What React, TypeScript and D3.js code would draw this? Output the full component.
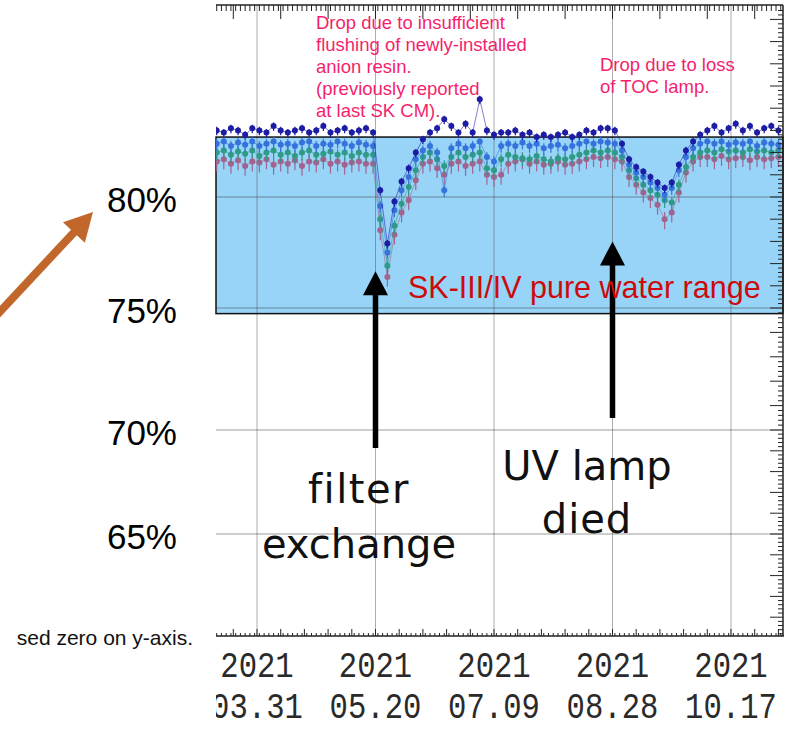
import React, { useEffect, useRef } from "react";
import * as d3 from "d3";

const W = 789;
const H = 730;

// one reading every 3 days, first one on 2021-03-14
const firstDay = "2021-03-14";
const stepDays = 3;

const navy = [
  83.0, 82.9, 83.1, 83.0, 82.8, 83.1, 83.0, 82.9, 83.2, 83.0,
  82.9, 83.0, 83.1, 82.9, 83.0, 83.2, 82.9, 83.0, 83.1, 82.9,
  83.0, 83.1, 82.9, 80.3, 77.9, 79.8, 80.7, 81.3, 82.0, 82.6,
  82.9, 83.1, 83.5, 83.2, 82.9, 83.3, 82.9, 84.4, 83.0, 82.8,
  82.9, 82.9, 83.0, 82.8, 82.9, 82.7, 82.8, 82.7, 82.8, 82.9,
  82.7, 82.8, 83.0, 82.9, 83.1, 83.1, 83.0, 82.4, 81.7, 81.35,
  81.15, 80.9, 80.65, 80.4, 80.65, 81.45, 82.1, 82.5, 82.8, 83.0,
  83.2, 82.9, 83.1, 83.3, 83.0, 83.2, 82.9, 83.1, 83.2, 83.0,
];
const blue = [
  82.4, 82.5, 82.3, 82.45, 82.35, 82.5, 82.3, 82.4, 82.5, 82.35,
  82.4, 82.3, 82.45, 82.5, 82.3, 82.4, 82.35, 82.5, 82.4, 82.3,
  82.45, 82.35, 82.3, 79.6, 77.5, 79.4, 80.3, 80.9, 81.7, 82.1,
  82.3, 82.0, 80.3, 82.2, 82.4, 82.2, 82.3, 82.5, 81.8, 81.6,
  82.3, 82.4, 82.3, 82.45, 82.3, 82.4, 82.2, 82.3, 82.35, 82.2,
  82.3, 82.4, 82.5, 82.4, 82.5, 82.45, 82.4, 82.1, 81.45, 81.1,
  80.9, 80.65, 80.4, 80.1, 80.4, 81.2, 81.8, 82.2, 82.4, 82.5,
  82.4, 82.5, 82.35, 82.45, 82.4, 82.5, 82.3, 82.45, 82.4, 82.35,
];
const teal = [
  82.0, 82.1, 81.9, 82.05, 81.95, 82.1, 81.85, 82.0, 82.1, 81.9,
  82.0, 81.85, 82.0, 82.1, 81.9, 81.95, 82.05, 81.9, 82.0, 81.85,
  82.0, 81.9, 81.9, 79.0, 76.9, 78.7, 79.7, 80.45, 81.2, 81.8,
  82.0, 81.7, 81.4, 81.8, 82.0, 81.8, 81.9, 82.0, 81.3, 81.2,
  81.7, 81.9, 81.8, 81.75, 81.7, 81.85, 81.7, 81.6, 81.75, 81.7,
  81.8, 81.9, 82.0, 82.1, 82.0, 82.1, 82.0, 81.8, 81.2, 80.85,
  80.55, 80.3, 80.1, 79.85, 79.75, 80.55, 81.35, 81.8, 82.0, 82.1,
  82.0, 82.15, 82.05, 82.1, 82.0, 82.15, 82.05, 82.1, 82.0, 82.1,
];
const mauve = [
  81.6, 81.7, 81.5, 81.65, 81.4, 81.6, 81.55, 81.7, 81.45, 81.6,
  81.5, 81.65, 81.4, 81.6, 81.55, 81.7, 81.5, 81.6, 81.45, 81.55,
  81.6, 81.5, 81.5, 78.5, 76.4, 78.3, 79.3, 79.85, 80.75, 81.5,
  81.6, 81.3, 81.0, 81.5, 81.6, 81.4, 81.5, 81.6, 81.0, 80.9,
  81.0, 81.5, 81.6, 81.7, 81.5, 81.6, 81.45, 81.5, 81.6, 81.45,
  81.5, 81.6, 81.7, 81.8, 81.75, 81.8, 81.7, 81.6, 80.9, 80.55,
  80.2, 79.95, 79.65, 79.0, 79.3, 80.2, 81.1, 81.6, 81.8, 81.8,
  81.7, 81.85, 81.7, 81.75, 81.8, 81.65, 81.8, 81.7, 81.75, 81.8,
];

// drawn back to front
const seriesList = [
  { name: "mauve", values: mauve, color: "#a4638e", err: 0.32 },
  { name: "teal", values: teal, color: "#2f9a86", err: 0.25 },
  { name: "blue", values: blue, color: "#3672dc", err: 0.22 },
  { name: "navy", values: navy, color: "#1c1ca4", err: 0.16 },
];

const gridDates = ["2021-03-31", "2021-05-20", "2021-07-09", "2021-08-28", "2021-10-17"];
const yLabels = [80, 75, 70, 65];
const pureLow = 74.77;
const pureHigh = 82.7;

const resinNote = [
  "Drop due to insufficient",
  "flushing of newly-installed",
  "anion resin.",
  "(previously reported",
  "at last SK CM).",
];
const tocNote = ["Drop due to loss", "of TOC lamp."];

const parseDay = d3.timeParse("%Y-%m-%d");

function arrowPath(x1: number, y1: number, x2: number, y2: number, sw: number, hw: number, hl: number) {
  const dx = x2 - x1, dy = y2 - y1, L = Math.hypot(dx, dy);
  const ux = dx / L, uy = dy / L, px = -uy, py = ux;
  const bx = x2 - ux * hl, by = y2 - uy * hl;
  const pts: [number, number][] = [
    [x1 + px * sw / 2, y1 + py * sw / 2],
    [bx + px * sw / 2, by + py * sw / 2],
    [bx + px * hw / 2, by + py * hw / 2],
    [x2, y2],
    [bx - px * hw / 2, by - py * hw / 2],
    [bx - px * sw / 2, by - py * sw / 2],
    [x1 - px * sw / 2, y1 - py * sw / 2],
  ];
  return d3.line()(pts) + "Z";
}

const App = () => {
  const svgRef = useRef<SVGSVGElement>(null);

  useEffect(() => {
    const svg = d3.select(svgRef.current);
    svg.selectAll("*").remove();

    const left = 216, right = 783, top = 5, bottom = 636;

    const grid = gridDates.map((s) => parseDay(s) as Date);
    const x = d3.scaleTime().domain([grid[0], grid[grid.length - 1]]).range([257, 731]);
    // the slide's y grid is not evenly spaced, so piecewise
    const y = d3.scaleLinear().domain([65, 70, 75, 80]).range([534, 430, 308, 197]);

    const xMin = x.invert(left), xMax = x.invert(right);
    const start = parseDay(firstDay) as Date;

    svg.append("rect").attr("width", W).attr("height", H).attr("fill", "#fff");

    const defs = svg.append("defs");
    defs.append("clipPath").attr("id", "plotclip")
      .append("rect").attr("x", left).attr("y", 0).attr("width", right - left).attr("height", bottom);
    // only the first date label runs past the frame's left edge
    defs.append("clipPath").attr("id", "labclip")
      .append("rect").attr("x", left).attr("y", bottom).attr("width", 110).attr("height", H - bottom);

    // pure water range box
    svg.append("rect")
      .attr("x", left).attr("y", y(pureHigh))
      .attr("width", right - left).attr("height", y(pureLow) - y(pureHigh))
      .attr("fill", "#97d4f7");

    // grid
    svg.append("g").selectAll("line").data(grid).enter().append("line")
      .attr("x1", (d) => x(d)).attr("x2", (d) => x(d))
      .attr("y1", top).attr("y2", bottom)
      .attr("stroke", "#4a4a4a").attr("stroke-opacity", 0.45).attr("stroke-width", 1);
    svg.append("g").selectAll("line").data(yLabels).enter().append("line")
      .attr("x1", left).attr("x2", right)
      .attr("y1", (d) => y(d)).attr("y2", (d) => y(d))
      .attr("stroke", "#3a3a3a").attr("stroke-opacity", 0.5).attr("stroke-width", 1);

    svg.append("rect")
      .attr("x", left).attr("y", y(pureHigh))
      .attr("width", right - left).attr("height", y(pureLow) - y(pureHigh))
      .attr("fill", "none").attr("stroke", "#111").attr("stroke-width", 1.5);

    // data
    const plot = svg.append("g").attr("clip-path", "url(#plotclip)");
    seriesList.forEach((s) => {
      const pts = s.values.map((v, i) => ({ date: d3.timeDay.offset(start, i * stepDays), v }));
      const g = plot.append("g");
      g.append("path")
        .attr("d", d3.line<any>().x((d) => x(d.date)).y((d) => y(d.v))(pts))
        .attr("fill", "none").attr("stroke", s.color).attr("stroke-width", 0.8).attr("stroke-opacity", 0.7);
      g.selectAll("line").data(pts).enter().append("line")
        .attr("x1", (d) => x(d.date)).attr("x2", (d) => x(d.date))
        .attr("y1", (d) => y(d.v + s.err)).attr("y2", (d) => y(d.v - s.err * 1.4))
        .attr("stroke", s.color).attr("stroke-width", 1.2);
      g.selectAll("circle").data(pts).enter().append("circle")
        .attr("cx", (d) => x(d.date)).attr("cy", (d) => y(d.v))
        .attr("r", 3).attr("fill", s.color);
    });

    // frame axes
    const ax = svg.append("g").attr("stroke", "#222").attr("stroke-width", 1);
    ax.append("line").attr("x1", left).attr("x2", right).attr("y1", top).attr("y2", top).attr("stroke-width", 1.5);
    ax.append("line").attr("x1", left).attr("x2", right + 1).attr("y1", bottom).attr("y2", bottom).attr("stroke-width", 1.5);
    ax.append("line").attr("x1", right).attr("x2", right).attr("y1", top).attr("y2", bottom).attr("stroke-width", 1.5);

    const ref21 = parseDay("2021-03-21") as Date;
    const allDays = d3.timeDay.range(xMin, xMax);
    const minorDays = allDays.filter((d, i) => i % 2 === 0);
    const majorDays = allDays.filter((d) => d3.timeDay.count(ref21, d) % 20 === 0);
    const bottomMajor = allDays.filter((d) => d3.timeDay.count(ref21, d) % 10 === 0);

    ax.selectAll(".tmin").data(minorDays).enter().append("line")
      .attr("x1", (d) => x(d)).attr("x2", (d) => x(d)).attr("y1", top).attr("y2", top + 6);
    ax.selectAll(".tmaj").data(majorDays).enter().append("line")
      .attr("x1", (d) => x(d)).attr("x2", (d) => x(d)).attr("y1", top).attr("y2", top + 14);
    ax.selectAll(".bmin").data(minorDays).enter().append("line")
      .attr("x1", (d) => x(d)).attr("x2", (d) => x(d)).attr("y1", bottom).attr("y2", bottom - 3);
    ax.selectAll(".bmaj").data(bottomMajor).enter().append("line")
      .attr("x1", (d) => x(d)).attr("x2", (d) => x(d)).attr("y1", bottom).attr("y2", bottom - 7);

    const rTicks = d3.range(301, 443).map((k) => k / 5);
    ax.selectAll(".rt").data(rTicks).enter().append("line")
      .attr("x1", right).attr("x2", (d) => right - (Math.round(d * 5) % 5 === 0 ? 13 : 5))
      .attr("y1", (d) => y(d)).attr("y2", (d) => y(d));

    // date labels
    const lab = svg.append("g")
      .attr("font-family", "'Liberation Mono', 'DejaVu Sans Mono', monospace")
      .attr("font-size", 34).attr("fill", "#2a2a2a").attr("text-anchor", "middle");
    grid.forEach((d, i) => {
      const g = lab.append("g");
      if (i === 0) g.attr("clip-path", "url(#labclip)");
      g.append("text").attr("transform", `translate(${x(d)},677) scale(0.9,1.06)`).text(d3.timeFormat("%Y")(d));
      g.append("text").attr("transform", `translate(${x(d)},718) scale(0.9,1.06)`).text(d3.timeFormat("%m.%d")(d));
    });

    // slide overlay: y labels
    svg.append("g").selectAll("text").data(yLabels).enter().append("text")
      .attr("x", 177).attr("y", (d) => y(d) + 15)
      .attr("text-anchor", "end").attr("font-family", "'Liberation Sans', Arial, sans-serif")
      .attr("font-size", 35).attr("fill", "#000").text((d) => `${d}%`);

    svg.append("text").attr("x", 193).attr("y", 645).attr("text-anchor", "end")
      .attr("font-family", "'Liberation Sans', Arial, sans-serif").attr("font-size", 21)
      .attr("fill", "#111").text("sed zero on y-axis.");

    // arrows
    svg.append("path").attr("d", arrowPath(-6, 318, 93, 212, 8, 30, 28)).attr("fill", "#c2672b");
    const filterX = x(parseDay("2021-05-20") as Date);
    const uvX = x(parseDay("2021-08-28") as Date);
    svg.append("path").attr("d", arrowPath(filterX, 448, filterX, y(76.65), 5.5, 25, 24)).attr("fill", "#000");
    svg.append("path").attr("d", arrowPath(uvX, 418, uvX, y(78.0), 5.5, 25, 24)).attr("fill", "#000");

    const big = svg.append("g").attr("font-family", "'DejaVu Sans', sans-serif")
      .attr("font-size", 40).attr("fill", "#111").attr("text-anchor", "middle");
    big.append("text").attr("x", 359).attr("y", 503).attr("letter-spacing", 1.5).text("filter");
    big.append("text").attr("x", 359).attr("y", 558).text("exchange");
    big.append("text").attr("x", 587).attr("y", 480).text("UV lamp");
    big.append("text").attr("x", 587).attr("y", 533).attr("letter-spacing", 1).text("died");

    svg.append("text").attr("x", 408).attr("y", y(pureLow) - 15.5)
      .attr("font-family", "'Liberation Sans', Arial, sans-serif").attr("font-size", 30.5)
      .attr("fill", "#cc0a0a").text("SK-III/IV pure water range");

    const note = svg.append("g").attr("font-family", "'Liberation Sans', Arial, sans-serif")
      .attr("font-size", 18.5).attr("fill", "#f51f6d");
    resinNote.forEach((t, i) => note.append("text").attr("x", 316).attr("y", 29 + i * 22).text(t));
    tocNote.forEach((t, i) => note.append("text").attr("x", 600).attr("y", 71 + i * 22).text(t));
  }, []);

  return (
    <svg
      ref={svgRef}
      width={W}
      height={H}
      style={{ position: "absolute", left: 0, top: 0, display: "block" }}
    />
  );
};

export default App;
